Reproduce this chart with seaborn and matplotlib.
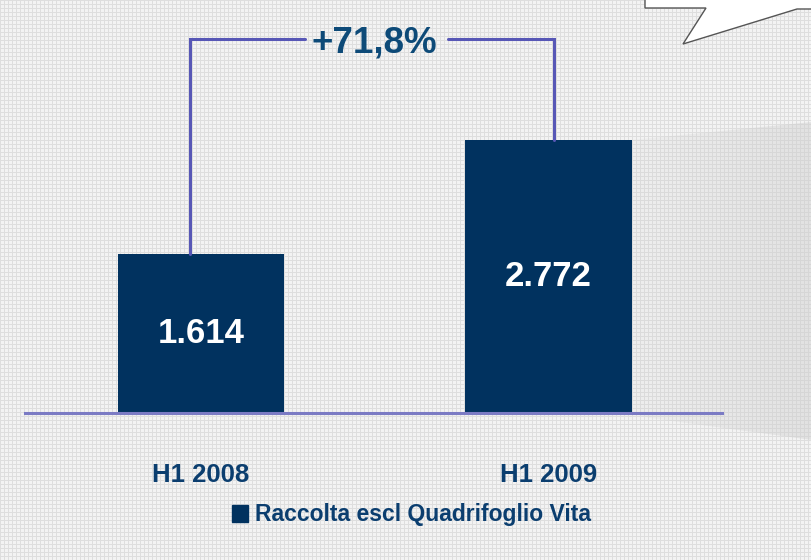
import numpy as np
import matplotlib
matplotlib.use("Agg")
import matplotlib.pyplot as plt
from matplotlib.patches import Polygon, Patch
import seaborn as sns

# data
periods = ["H1 2008", "H1 2009"]
raccolta = [1614, 2772]
value_labels = ["1.614", "2.772"]
growth_label = "+71,8%"
series_name = "Raccolta escl Quadrifoglio Vita"

navy = "#01325f"
text_blue = "#0b3e6f"
bracket_col = "#5757b6"
base_col = "#7b7bc4"

sns.set_style("white")
plt.rcParams["font.family"] = ["Liberation Sans", "DejaVu Sans"]

W, H = 812, 560
fig = plt.figure(figsize=(W / 100, H / 100), dpi=100)

# textured background (light gray grid paper)
bg = fig.add_axes([0, 0, 1, 1])
tex = np.full((H, W), 0.955)
tex[::4, :] = 0.87
tex[:, ::4] = 0.87
bg.imshow(tex, cmap="gray", vmin=0, vmax=1, extent=(0, W, H, 0), aspect="auto",
          interpolation="nearest")
bg.set_xlim(0, W)
bg.set_ylim(H, 0)
bg.axis("off")

# gray shaded callout on the right
shade_poly = Polygon([(631, 140), (812, 122), (812, 440), (650, 418), (631, 413)],
                     closed=True, facecolor="none", edgecolor="none")
bg.add_patch(shade_poly)
grad = np.zeros((10, 200, 4))
grad[..., :3] = 0.80
grad[..., 3] = np.linspace(0.12, 0.45, 200)[None, :]
im = bg.imshow(grad, extent=(631, 812, 440, 120), aspect="auto", interpolation="bilinear")
im.set_clip_path(shade_poly)

# speech bubble at the top right
bubble = Polygon([(645, -5), (645, 8), (706, 8), (683, 44), (797, 9), (815, 9), (815, -5)],
                 closed=True, facecolor="white", edgecolor="#555555", lw=1)
bg.add_patch(bubble)

# main chart
ax = fig.add_axes([25 / W, (H - 413) / H, 697 / W, 413 / H])
ax.patch.set_alpha(0)
sns.barplot(x=periods, y=raccolta, color=navy, saturation=1, width=0.478,
            linewidth=0, ax=ax)
ax.set_xlim(-0.506, 1.499)
ax.set_ylim(0, 4193)
for s in ["top", "right", "left"]:
    ax.spines[s].set_visible(False)
ax.spines["bottom"].set_color(base_col)
ax.spines["bottom"].set_linewidth(2.2)
ax.set_yticks([])
ax.set_ylabel("")
ax.tick_params(axis="x", length=0, pad=36)
ax.set_xticks(range(len(periods)))
ax.set_xticklabels(periods, fontsize=18.5, fontweight="bold", color=text_blue)

# values inside bars
ax.text(0, raccolta[0] * 0.5, value_labels[0], ha="center", va="center",
        color="white", fontsize=25, fontweight="bold")
ax.text(1, raccolta[1] * 0.5, value_labels[1], ha="center", va="center",
        color="white", fontsize=25, fontweight="bold")

# growth bracket
top_y = 3797
xl, xr = -0.031, 1.016
ax.plot([xl, xl, 0.30], [raccolta[0], top_y, top_y], color=bracket_col, lw=2.2,
        solid_joinstyle="miter", clip_on=False)
ax.plot([0.711, xr, xr], [top_y, top_y, raccolta[1]], color=bracket_col, lw=2.2,
        solid_joinstyle="miter", clip_on=False)
ax.text(0.5, top_y - 40, growth_label, ha="center", va="center",
        fontsize=26.5, fontweight="bold", color="#0d4a78")

# legend
fig.legend(handles=[Patch(color=navy)], labels=[series_name], loc="center",
           bbox_to_anchor=(411.5 / W, 1 - 515 / H), frameon=False,
           handlelength=0.7, handleheight=0.7, handletextpad=0.3,
           prop={"weight": "bold", "size": 16.5}, labelcolor=text_blue)

fig.savefig("out.png", dpi=100)
